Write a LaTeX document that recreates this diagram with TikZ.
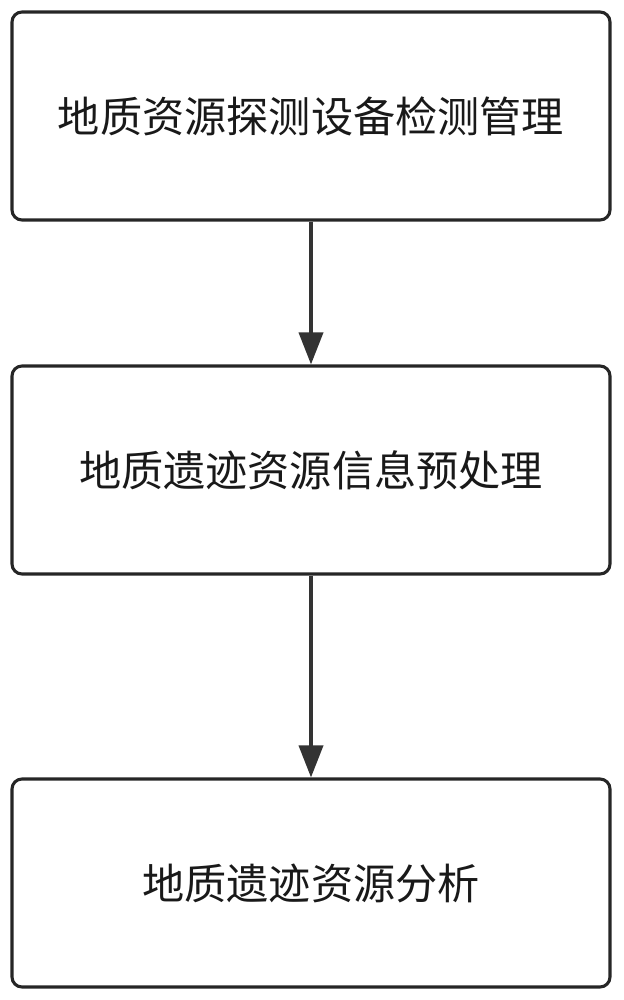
\documentclass[tikz,border=0pt]{standalone}
\usepackage{fontspec}
\newfontfamily\cjk{Noto Sans CJK SC}
\usetikzlibrary{positioning,arrows.meta}
\begin{document}
\begin{tikzpicture}[%
% common options for steps:
stepbox/.style = {draw=black!85, line width=2.2pt, rounded corners=0.25cm,
            minimum width=14.95cm, minimum height=5.2cm, align=center,
            font=\cjk\fontsize{30}{36}\selectfont, text=black!90},
flow/.style = {draw=black!80, line width=2.6pt, -{Triangle[length=0.8cm,width=0.6cm]}}]
\useasboundingbox (0,0) rectangle (15.575,-25);
\node[stepbox] (S1) at (7.775,-2.9) {地质资源探测设备检测管理};
\node[stepbox] (S2) at (7.775,-11.75) {地质遗迹资源信息预处理};
\node[stepbox] (S3) at (7.775,-22.075) {地质遗迹资源分析};
\draw[flow] (S1.south) to (S2.north);
\draw[flow] (S2.south) to (S3.north);
\end{tikzpicture}
\end{document}
